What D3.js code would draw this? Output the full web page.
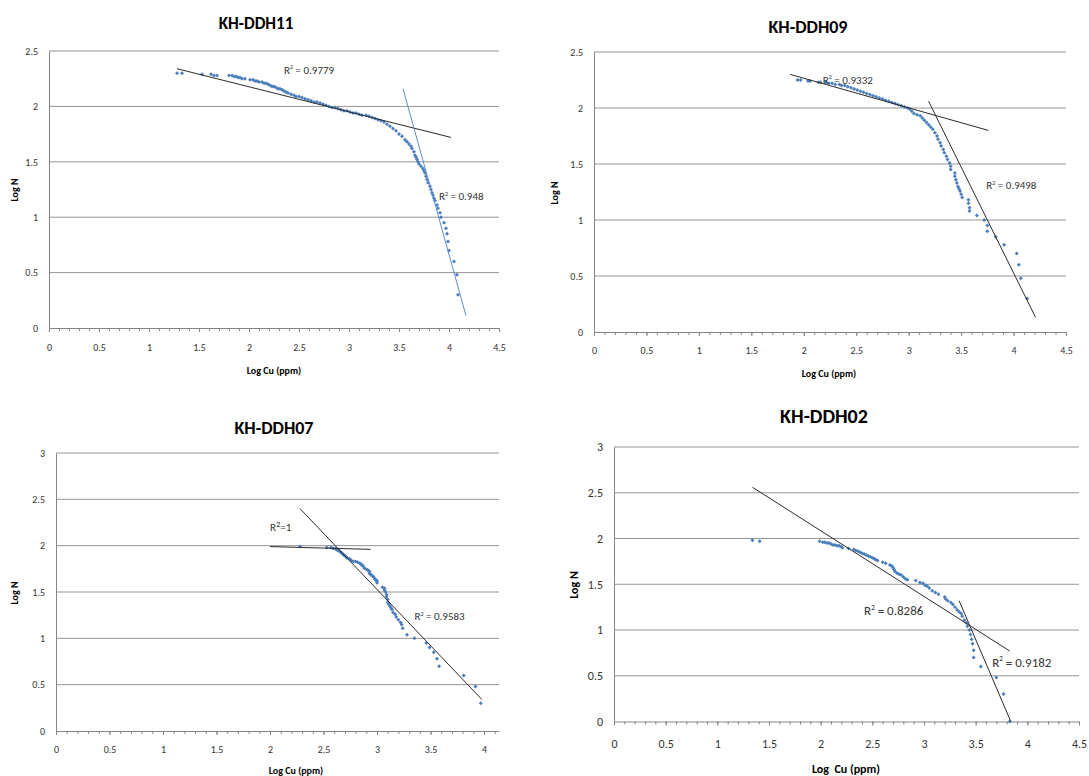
<!DOCTYPE html>
<html>
<head>
<meta charset="utf-8">
<script src="https://cdn.jsdelivr.net/npm/d3@7"></script>
<style>
  body { margin: 0; background: #fff; }
  svg text { font-family: Carlito, Lato, sans-serif; }
</style>
</head>
<body>
<svg id="chart" width="1089" height="776"></svg>
<script>
// ---- data (Log Cu, Log N) ----
const xTicks = [0, 0.5, 1, 1.5, 2, 2.5, 3, 3.5, 4, 4.5];
const xTicks07 = [0, 0.5, 1, 1.5, 2, 2.5, 3, 3.5, 4];
const yTicks25 = [0, 0.5, 1, 1.5, 2, 2.5];
const yTicks3 = [0, 0.5, 1, 1.5, 2, 2.5, 3];

const ddh11Points = [[1.28,2.30],[1.33,2.30],[1.53,2.29],[1.62,2.29],[1.65,2.28],[1.68,2.28],[1.80,2.28],[1.83,2.28],[1.85,2.27],[1.87,2.27],[1.89,2.26],[1.91,2.26],[1.93,2.25],[1.96,2.25],[2.01,2.24],[2.04,2.24],[2.06,2.23],[2.08,2.23],[2.10,2.22],[2.13,2.22],[2.15,2.21],[2.17,2.21],[2.19,2.20],[2.21,2.19],[2.23,2.18],[2.25,2.18],[2.27,2.17],[2.29,2.16],[2.31,2.16],[2.33,2.15],[2.35,2.14],[2.37,2.13],[2.39,2.12],[2.42,2.11],[2.45,2.10],[2.47,2.09],[2.50,2.09],[2.53,2.08],[2.56,2.07],[2.59,2.06],[2.62,2.05],[2.65,2.04],[2.68,2.04],[2.71,2.03],[2.74,2.02],[2.77,2.01],[2.80,2.00],[2.83,1.99],[2.86,1.99],[2.89,1.98],[2.92,1.97],[2.95,1.96],[2.98,1.96],[3.01,1.95],[3.04,1.94],[3.07,1.94],[3.10,1.93],[3.13,1.92],[3.17,1.92],[3.20,1.91],[3.23,1.90],[3.26,1.89],[3.29,1.88],[3.32,1.87],[3.35,1.86],[3.38,1.84],[3.41,1.82],[3.44,1.80],[3.47,1.78],[3.50,1.75],[3.53,1.73],[3.56,1.70],[3.58,1.68],[3.60,1.66],[3.62,1.64],[3.63,1.62],[3.65,1.59],[3.66,1.56],[3.67,1.54],[3.68,1.52],[3.69,1.50],[3.70,1.48],[3.72,1.46],[3.74,1.44],[3.75,1.42],[3.76,1.40],[3.77,1.37],[3.78,1.34],[3.79,1.31],[3.81,1.28],[3.82,1.25],[3.83,1.22],[3.84,1.20],[3.85,1.17],[3.86,1.15],[3.88,1.11],[3.89,1.08],[3.91,1.04],[3.92,1.00],[3.95,0.95],[3.97,0.90],[3.98,0.85],[3.99,0.78],[4.00,0.70],[4.05,0.60],[4.08,0.48],[4.09,0.30]];
const ddh11Fits = [[[1.28,2.34],[4.02,1.72]], [[3.54,2.16],[4.17,0.11]]];
const ddh11R2 = ['0.9779', '0.948'];

const ddh09Points = [[1.94,2.25],[1.97,2.25],[2.04,2.24],[2.06,2.24],[2.14,2.23],[2.16,2.23],[2.21,2.23],[2.24,2.22],[2.27,2.22],[2.30,2.21],[2.34,2.21],[2.36,2.20],[2.39,2.20],[2.42,2.19],[2.45,2.18],[2.48,2.17],[2.51,2.16],[2.54,2.15],[2.57,2.14],[2.60,2.13],[2.63,2.12],[2.66,2.11],[2.69,2.10],[2.72,2.09],[2.75,2.08],[2.78,2.07],[2.81,2.06],[2.84,2.05],[2.87,2.04],[2.90,2.03],[2.93,2.02],[2.96,2.01],[2.99,2.00],[3.01,1.99],[3.03,1.97],[3.05,1.95],[3.08,1.94],[3.11,1.93],[3.13,1.91],[3.15,1.89],[3.17,1.87],[3.19,1.85],[3.21,1.83],[3.23,1.81],[3.25,1.78],[3.27,1.75],[3.28,1.72],[3.30,1.69],[3.31,1.66],[3.33,1.63],[3.34,1.60],[3.36,1.57],[3.37,1.54],[3.39,1.51],[3.40,1.48],[3.40,1.45],[3.44,1.42],[3.44,1.39],[3.45,1.36],[3.46,1.33],[3.47,1.30],[3.48,1.28],[3.49,1.26],[3.50,1.23],[3.51,1.20],[3.57,1.18],[3.57,1.15],[3.58,1.11],[3.58,1.08],[3.65,1.04],[3.72,1.00],[3.75,0.95],[3.75,0.90],[3.83,0.85],[3.91,0.78],[4.03,0.70],[4.05,0.60],[4.07,0.48],[4.13,0.30]];
const ddh09Fits = [[[1.87,2.30],[3.76,1.80]], [[3.19,2.06],[4.21,0.13]]];
const ddh09R2 = ['0.9332', '0.9498'];

const ddh07Points = [[2.28,1.99],[2.53,1.98],[2.57,1.98],[2.59,1.97],[2.61,1.97],[2.62,1.96],[2.63,1.95],[2.64,1.95],[2.65,1.94],[2.66,1.93],[2.67,1.92],[2.68,1.91],[2.69,1.90],[2.70,1.89],[2.71,1.88],[2.72,1.87],[2.74,1.86],[2.75,1.85],[2.76,1.84],[2.78,1.83],[2.80,1.83],[2.82,1.82],[2.84,1.81],[2.85,1.80],[2.86,1.79],[2.87,1.78],[2.88,1.76],[2.89,1.75],[2.91,1.74],[2.92,1.73],[2.93,1.72],[2.93,1.70],[2.94,1.69],[2.95,1.68],[2.96,1.67],[2.97,1.66],[2.98,1.64],[2.99,1.63],[3.00,1.62],[3.00,1.60],[3.05,1.55],[3.07,1.54],[3.07,1.52],[3.08,1.50],[3.09,1.47],[3.09,1.45],[3.10,1.42],[3.10,1.39],[3.11,1.37],[3.12,1.35],[3.13,1.33],[3.14,1.31],[3.15,1.28],[3.17,1.26],[3.18,1.23],[3.20,1.20],[3.22,1.17],[3.23,1.15],[3.24,1.11],[3.28,1.04],[3.35,1.00],[3.46,0.95],[3.49,0.90],[3.53,0.85],[3.56,0.78],[3.58,0.70],[3.81,0.60],[3.92,0.48],[3.97,0.30]];
const ddh07Fits = [[[2.00,1.99],[2.94,1.96]], [[2.28,2.40],[3.98,0.34]]];
const ddh07R2 = ['1', '0.9583'];

const ddh02Points = [[1.34,1.98],[1.41,1.97],[1.99,1.97],[2.02,1.96],[2.04,1.96],[2.06,1.95],[2.08,1.95],[2.10,1.94],[2.12,1.93],[2.14,1.93],[2.16,1.92],[2.18,1.92],[2.20,1.91],[2.21,1.90],[2.27,1.89],[2.32,1.88],[2.34,1.87],[2.36,1.86],[2.38,1.85],[2.40,1.84],[2.42,1.83],[2.44,1.82],[2.46,1.81],[2.48,1.80],[2.50,1.79],[2.52,1.78],[2.53,1.77],[2.55,1.76],[2.60,1.74],[2.63,1.73],[2.67,1.71],[2.69,1.70],[2.70,1.68],[2.71,1.66],[2.72,1.64],[2.74,1.62],[2.76,1.61],[2.78,1.60],[2.80,1.58],[2.82,1.56],[2.84,1.55],[2.92,1.54],[2.96,1.52],[2.99,1.51],[3.01,1.49],[3.03,1.48],[3.05,1.46],[3.08,1.43],[3.11,1.41],[3.14,1.39],[3.20,1.36],[3.21,1.34],[3.23,1.32],[3.26,1.30],[3.28,1.28],[3.30,1.25],[3.32,1.22],[3.34,1.20],[3.36,1.18],[3.37,1.15],[3.39,1.11],[3.41,1.08],[3.42,1.04],[3.44,1.00],[3.45,0.95],[3.46,0.90],[3.47,0.85],[3.48,0.78],[3.48,0.70],[3.55,0.60],[3.70,0.48],[3.77,0.30],[3.83,0.00]];
const ddh02Fits = [[[1.34,2.56],[3.83,0.77]], [[3.34,1.32],[3.84,0.00]]];
const ddh02R2 = ['0.8286', '0.9182'];

// ---- panel layout ----
const FONT = 'Carlito, Lato, sans-serif';
const panels = [
  { title: 'KH-DDH11', points: ddh11Points, fits: ddh11Fits, r2: ddh11R2, xTicks: xTicks, yTicks: yTicks25,
    xMax: 4.5, yMax: 2.5, box: { left: 49, right: 499, top: 51, bottom: 328 },
    fitColors: ['#2b2b2b', '#5b8ccb'], r2Pos: [[2.35, 2.33], [3.90, 1.19]], compact: [false, false],
    titlePos: [256, 23], titleSize: 17, xTitle: 'Log Cu (ppm)', xTitlePos: [274, 370], yTitlePos: [14, 190],
    axisFont: 10, tickFont: 10, r2Font: 11, tickY: 19 },
  { title: 'KH-DDH09', points: ddh09Points, fits: ddh09Fits, r2: ddh09R2, xTicks: xTicks, yTicks: yTicks25,
    xMax: 4.5, yMax: 2.5, box: { left: 594, right: 1066, top: 52, bottom: 332 },
    fitColors: ['#2b2b2b', '#2b2b2b'], r2Pos: [[2.18, 2.25], [3.74, 1.31]], compact: [false, false],
    titlePos: [808, 27], titleSize: 18, xTitle: 'Log Cu (ppm)', xTitlePos: [829, 373], yTitlePos: [554, 193],
    axisFont: 10, tickFont: 10, r2Font: 11, tickY: 18 },
  { title: 'KH-DDH07', points: ddh07Points, fits: ddh07Fits, r2: ddh07R2, xTicks: xTicks07, yTicks: yTicks3,
    xMax: 4.14, yMax: 3, box: { left: 56, right: 499, top: 453, bottom: 731 },
    fitColors: ['#2b2b2b', '#2b2b2b'], r2Pos: [[2.0, 2.20], [3.35, 1.24]], compact: [true, false],
    titlePos: [274, 428], titleSize: 18, xTitle: 'Log Cu (ppm)', xTitlePos: [296, 770], yTitlePos: [14, 593],
    axisFont: 10, tickFont: 10, r2Font: 11, tickY: 18 },
  { title: 'KH-DDH02', points: ddh02Points, fits: ddh02Fits, r2: ddh02R2, xTicks: xTicks, yTicks: yTicks3,
    xMax: 4.5, yMax: 3, box: { left: 614, right: 1079, top: 447, bottom: 721.5 },
    fitColors: ['#2b2b2b', '#2b2b2b'], r2Pos: [[2.42, 1.21], [3.66, 0.65]], compact: [false, false],
    titlePos: [824, 416], titleSize: 20, xTitle: 'Log  Cu (ppm)', xTitlePos: [846, 769], yTitlePos: [574, 585],
    axisFont: 12, tickFont: 12, r2Font: 13, tickY: 22 }
];

const svg = d3.select('#chart');

let drawPanel = (p) => {
  let g = svg.append('g');
  let x = d3.scaleLinear().domain([0, p.xMax]).range([p.box.left, p.box.right]);
  let y = d3.scaleLinear().domain([0, p.yMax]).range([p.box.bottom, p.box.top]);

  // horizontal gridlines
  g.selectAll('line.grid')
    .data(p.yTicks.filter(d => d > 0))
    .enter()
    .append('line')
    .attr('class', 'grid')
    .attr('x1', p.box.left).attr('x2', p.box.right)
    .attr('y1', d => y(d)).attr('y2', d => y(d))
    .attr('stroke', '#949494')
    .attr('stroke-width', 1);

  // y axis
  let yAxis = g.append('g')
    .attr('transform', `translate(${p.box.left},0)`)
    .call(d3.axisLeft(y).tickValues(p.yTicks).tickSize(0).tickPadding(11).tickFormat(d => String(d)));
  yAxis.select('.domain').attr('stroke', '#868686');
  yAxis.selectAll('text').attr('font-family', FONT).attr('font-size', p.tickFont).attr('fill', '#333');

  // x axis: minor ticks every 0.1, labels every 0.5
  let minor = d3.range(0, Math.floor(p.xMax * 10 + 1e-6) + 1).map(i => i / 10);
  g.append('g')
    .attr('transform', `translate(0,${p.box.bottom})`)
    .call(d3.axisBottom(x).tickValues(minor).tickSize(3).tickSizeOuter(0).tickFormat(''))
    .call(a => a.selectAll('line').attr('stroke', '#868686'))
    .call(a => a.select('.domain').attr('stroke', '#868686'));
  let xAxis = g.append('g')
    .attr('transform', `translate(0,${p.box.bottom})`)
    .call(d3.axisBottom(x).tickValues(p.xTicks).tickSize(4).tickSizeOuter(0).tickFormat(d => String(d)));
  xAxis.select('.domain').remove();
  xAxis.selectAll('line').attr('stroke', '#868686');
  xAxis.selectAll('text')
    .attr('font-family', FONT).attr('font-size', p.tickFont).attr('fill', '#333')
    .attr('y', p.tickY).attr('dy', '0.35em');

  // scatter markers (small diamonds)
  let marker = d3.symbol().type(d3.symbolSquare).size(8);
  g.selectAll('path.pt')
    .data(p.points)
    .enter()
    .append('path')
    .attr('class', 'pt')
    .attr('d', marker)
    .attr('transform', d => `translate(${x(d[0])},${y(d[1])}) rotate(45)`)
    .attr('fill', '#4a7ebb');

  // trend lines
  let line = d3.line().x(d => x(d[0])).y(d => y(d[1]));
  g.selectAll('path.fit')
    .data(p.fits)
    .enter()
    .append('path')
    .attr('class', 'fit')
    .attr('d', line)
    .attr('fill', 'none')
    .attr('stroke', (d, i) => p.fitColors[i])
    .attr('stroke-width', 1);

  // R² labels
  p.r2.forEach((val, i) => {
    let compact = p.compact[i];
    let t = g.append('text')
      .attr('x', x(p.r2Pos[i][0]))
      .attr('y', y(p.r2Pos[i][1]))
      .attr('dy', '0.35em')
      .attr('font-family', FONT)
      .attr('font-size', p.r2Font)
      .attr('fill', '#333');
    t.append('tspan').text('R');
    t.append('tspan').text('2')
      .attr('font-size', p.r2Font * (compact ? 0.75 : 0.55))
      .attr('dy', -p.r2Font * 0.4);
    t.append('tspan').text(compact ? '=' + val : ' = ' + val)
      .attr('dy', p.r2Font * 0.4);
  });

  // titles
  g.append('text')
    .attr('x', p.titlePos[0]).attr('y', p.titlePos[1])
    .attr('text-anchor', 'middle').attr('dy', '0.35em')
    .attr('font-family', FONT).attr('font-weight', 'bold')
    .attr('font-size', p.titleSize).attr('fill', '#000')
    .text(p.title);

  g.append('text')
    .attr('x', p.xTitlePos[0]).attr('y', p.xTitlePos[1])
    .attr('text-anchor', 'middle').attr('dy', '0.35em')
    .attr('font-family', FONT).attr('font-weight', 'bold')
    .attr('font-size', p.axisFont).attr('fill', '#000')
    .style('white-space', 'pre')
    .text(p.xTitle);

  g.append('text')
    .attr('transform', `translate(${p.yTitlePos[0]},${p.yTitlePos[1]}) rotate(-90)`)
    .attr('text-anchor', 'middle').attr('dy', '0.35em')
    .attr('font-family', FONT).attr('font-weight', 'bold')
    .attr('font-size', p.axisFont).attr('fill', '#000')
    .text('Log N');
};

panels.forEach(drawPanel);
</script>
</body>
</html>
